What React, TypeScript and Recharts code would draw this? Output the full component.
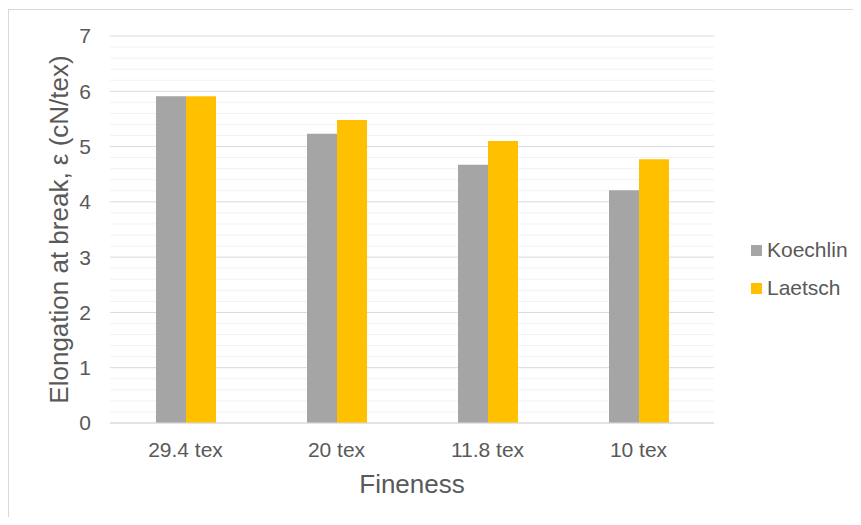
import React from 'react'
import { BarChart, Bar, XAxis, YAxis, CartesianGrid, Legend } from 'recharts'

const CATEGORIES = ['29.4 tex', '20 tex', '11.8 tex', '10 tex']
const KOECHLIN = [5.91, 5.23, 4.67, 4.21]
const LAETSCH = [5.91, 5.48, 5.1, 4.77]
const Y_TICKS = [0, 1, 2, 3, 4, 5, 6, 7]
const MINOR_STEPS = [0.2, 0.4, 0.6, 0.8]

const TEXT = '#595959'
const FONT = '"Liberation Sans", Arial, sans-serif'
const SERIES = [
  { key: 'koechlin', name: 'Koechlin', color: '#a5a5a5' },
  { key: 'laetsch', name: 'Laetsch', color: '#ffc000' },
]

const data = CATEGORIES.map((c, i) => ({ name: c, koechlin: KOECHLIN[i], laetsch: LAETSCH[i] }))
const minorTicks = Y_TICKS.slice(0, -1).flatMap(t => MINOR_STEPS.map(s => t + s))

function XTitle({ viewBox }: any) {
  return (
    <text x={viewBox.x + viewBox.width / 2} y={viewBox.y + 70} textAnchor="middle" fill={TEXT} fontSize={26} fontFamily={FONT}>
      Fineness
    </text>
  )
}

function YTitle({ viewBox }: any) {
  const x = viewBox.x + 20
  const y = viewBox.y + viewBox.height / 2
  return (
    <text x={x} y={y} transform={`rotate(-90 ${x} ${y})`} textAnchor="middle" fill={TEXT} fontSize={26} fontFamily={FONT}>
      Elongation at break, ε (cN/tex)
    </text>
  )
}

function LegendBox() {
  return (
    <div style={{ fontFamily: FONT, fontSize: 21, color: TEXT }}>
      {SERIES.map(s => (
        <div key={s.key} style={{ display: 'flex', alignItems: 'center', height: 38 }}>
          <span style={{ width: 11, height: 11, background: s.color, marginRight: 5, display: 'inline-block' }} />
          <span>{s.name}</span>
        </div>
      ))}
    </div>
  )
}

export default function App() {
  return (
    <div style={{ position: 'relative', width: 845, height: 509 }}>
      <div
        style={{
          position: 'absolute',
          left: 0,
          top: 1,
          width: 853,
          height: 516,
          boxSizing: 'border-box',
          borderTop: '1px solid #d9d9d9',
          borderLeft: '1px solid #d9d9d9',
        }}
      />
      <BarChart
        width={845}
        height={509}
        data={data}
        margin={{ top: 28, right: 139, bottom: 24, left: 40 }}
        barSize={30}
        barGap={0}
        style={{ position: 'absolute', left: 0, top: 0 }}
      >
        <CartesianGrid vertical={false} horizontalValues={minorTicks} stroke="#f2f2f2" />
        <CartesianGrid vertical={false} horizontalValues={Y_TICKS} stroke="#d9d9d9" />
        <XAxis
          dataKey="name"
          height={70}
          tickLine={false}
          tickSize={0}
          tickMargin={19}
          axisLine={{ stroke: '#d9d9d9' }}
          tick={{ fill: TEXT, fontSize: 21, fontFamily: FONT }}
          label={<XTitle />}
        />
        <YAxis
          width={62}
          domain={[0, 7]}
          ticks={Y_TICKS}
          interval={0}
          tickLine={false}
          axisLine={false}
          tickSize={0}
          tickMargin={19}
          tick={{ fill: TEXT, fontSize: 21, fontFamily: FONT }}
          label={<YTitle />}
        />
        <Legend
          layout="vertical"
          align="center"
          verticalAlign="middle"
          content={<LegendBox />}
          wrapperStyle={{ left: 743, top: 223, width: 110 }}
        />
        {SERIES.map(s => (
          <Bar key={s.key} dataKey={s.key} name={s.name} fill={s.color} isAnimationActive={false} />
        ))}
      </BarChart>
    </div>
  )
}
